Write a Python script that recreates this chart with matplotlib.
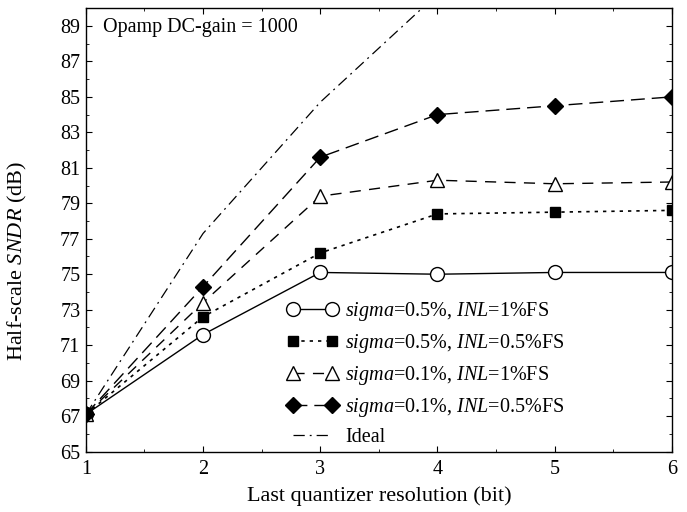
import matplotlib
matplotlib.use("Agg")
import matplotlib.pyplot as plt
from matplotlib.ticker import MultipleLocator

plt.rcParams['font.family'] = ['Liberation Serif', 'DejaVu Serif']
plt.rcParams['mathtext.fontset'] = 'custom'
plt.rcParams['mathtext.rm'] = 'Liberation Serif'
plt.rcParams['mathtext.it'] = 'Liberation Serif:italic'

bits = [1, 2, 3, 4, 5, 6]
s05_inl1 = [67.1, 71.6, 75.1, 75.0, 75.1, 75.1]
s05_inl05 = [67.1, 72.6, 76.2, 78.4, 78.5, 78.6]
s01_inl1 = [67.1, 73.4, 79.4, 80.3, 80.1, 80.2]
s01_inl05 = [67.1, 74.3, 81.6, 84.0, 84.5, 85.0]
ideal_bits = [1, 2, 3, 4]
ideal = [67.1, 77.3, 84.7, 90.8]

labels = [r'$\it{sigma}$=0.5%, $\it{INL}$=1%FS',
          r'$\it{sigma}$=0.5%, $\it{INL}$=0.5%FS',
          r'$\it{sigma}$=0.1%, $\it{INL}$=1%FS',
          r'$\it{sigma}$=0.1%, $\it{INL}$=0.5%FS',
          'Ideal']

FS = 14.5

fig = plt.figure(figsize=(6.87, 5.12), dpi=100)
ax = fig.add_axes([0.125, 0.118, 0.853, 0.866])

ax.plot(bits, s05_inl1, '-', color='black', lw=1.0, marker='o', ms=10,
        mfc='white', mec='black', mew=1.0, label=labels[0])
ax.plot(bits, s05_inl05, ':', color='black', lw=1.2, marker='s', ms=7.5,
        mfc='black', mec='black', label=labels[1], dashes=(2, 3))
ax.plot(bits, s01_inl1, '--', color='black', lw=1.0, marker='^', ms=10,
        mfc='white', mec='black', mew=1.0, label=labels[2], dashes=(8, 6))
ax.plot(bits, s01_inl05, '--', color='black', lw=1.0, marker='D', ms=8,
        mfc='black', mec='black', label=labels[3], dashes=(10, 5))
ax.plot(ideal_bits, ideal, '-.', color='black', lw=0.9, label=labels[4],
        dashes=(9, 4, 1.5, 4))

ax.set_xlim(1, 6)
ax.set_ylim(65, 90)
ax.xaxis.set_major_locator(MultipleLocator(1))
ax.xaxis.set_minor_locator(MultipleLocator(0.5))
ax.set_yticks(list(range(65, 90, 2)))
ax.yaxis.set_minor_locator(MultipleLocator(1))
ax.tick_params(which='both', direction='in', top=True, right=True,
               labelsize=FS, colors='black')
ax.tick_params(which='major', length=4)
ax.tick_params(which='minor', length=2.5)
ax.tick_params(axis='x', pad=6)
ax.tick_params(axis='y', pad=4)

ax.set_xlabel('Last quantizer resolution (bit)', fontsize=16, labelpad=5)
ax.set_ylabel(r'Half-scale $\it{SNDR}$ (dB)', fontsize=16)
ax.yaxis.set_label_coords(-0.097, 0.43)

ax.text(0.03, 0.978, 'Opamp DC-gain = 1000', transform=ax.transAxes,
        fontsize=FS, va='top', ha='left')

leg = ax.legend(loc='lower left', bbox_to_anchor=(0.343, 0.01), frameon=False,
                fontsize=FS, numpoints=2, handlelength=2.55, handletextpad=0.35,
                labelspacing=0.45, borderaxespad=0.0, borderpad=0.0)

for s in ax.spines.values():
    s.set_linewidth(1.0)

fig.savefig('out.png', dpi=100)
